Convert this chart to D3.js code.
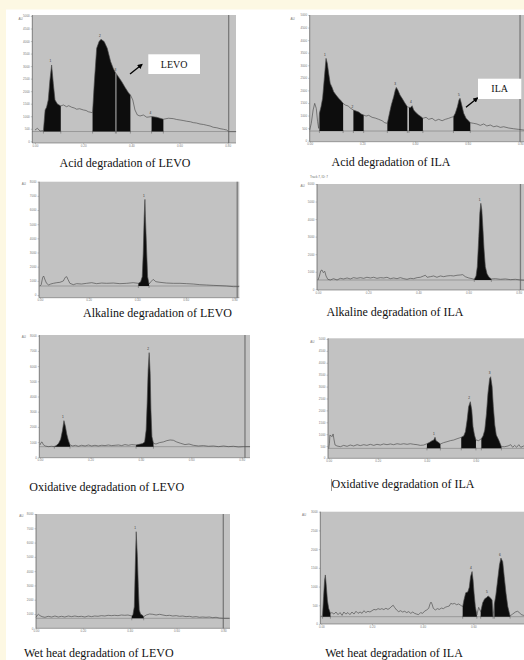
<!DOCTYPE html>
<html>
<head>
<meta charset="utf-8">
<script src="https://cdn.jsdelivr.net/npm/d3@7"></script>
<style>
  body { margin: 0; background: #fff; }
  svg { display: block; }
</style>
</head>
<body>
<script>
// densitometry traces, [Rf, AU]
const acidLevoTrace = [[0,450],[0.010,520],[0.021,410],[0.035,425],[0.042,1250],[0.048,1360],[0.055,1650],[0.062,2450],[0.069,3045],[0.076,2310],[0.083,1650],[0.093,1490],[0.107,1410],[0.118,1450],[0.131,1380],[0.140,1420],[0.152,1360],[0.163,1330],[0.173,1280],[0.185,1300],[0.201,1250],[0.212,1230],[0.221,1180],[0.239,1140],[0.246,2310],[0.256,3710],[0.266,3980],[0.274,4070],[0.287,3980],[0.300,3710],[0.314,3180],[0.325,2910],[0.334,2740],[0.338,2690],[0.346,2580],[0.360,2380],[0.374,2150],[0.388,1940],[0.396,1850],[0.406,1650],[0.415,1250],[0.425,1050],[0.436,1010],[0.450,1050],[0.464,960],[0.484,985],[0.505,960],[0.533,880],[0.554,920],[0.574,905],[0.588,870],[0.602,850],[0.615,830],[0.630,800],[0.645,780],[0.657,745],[0.670,730],[0.685,690],[0.700,670],[0.713,640],[0.727,610],[0.740,560],[0.755,540],[0.768,505],[0.782,480],[0.796,450],[0.804,385],[0.835,385]];
const acidLevoPeaks = [{id:"1",start:0.035,end:0.107},{id:"2",start:0.239,end:0.334},{id:"3",start:0.338,end:0.396},{id:"4",start:0.484,end:0.533}];

const acidIlaTrace = [[0,425],[0.006,690],[0.013,1220],[0.019,1485],[0.025,1285],[0.030,755],[0.034,490],[0.037,1090],[0.043,1350],[0.049,1685],[0.056,2545],[0.062,3275],[0.067,3075],[0.072,2680],[0.078,2280],[0.085,2120],[0.091,1950],[0.100,1815],[0.110,1685],[0.119,1590],[0.127,1485],[0.135,1420],[0.146,1380],[0.156,1285],[0.166,1220],[0.176,1180],[0.186,1140],[0.196,1060],[0.205,1020],[0.214,980],[0.224,1010],[0.237,930],[0.249,900],[0.262,850],[0.275,795],[0.285,715],[0.295,690],[0.303,1090],[0.310,1420],[0.319,1750],[0.325,2015],[0.329,2120],[0.335,2015],[0.343,1815],[0.351,1685],[0.361,1510],[0.371,1350],[0.377,1325],[0.384,1325],[0.389,1390],[0.395,1220],[0.404,1115],[0.414,1020],[0.423,955],[0.430,890],[0.442,930],[0.452,850],[0.465,890],[0.477,795],[0.490,850],[0.503,795],[0.515,850],[0.528,890],[0.538,930],[0.546,955],[0.553,1090],[0.561,1350],[0.567,1620],[0.571,1685],[0.576,1485],[0.585,1090],[0.594,890],[0.603,795],[0.610,715],[0.623,690],[0.635,665],[0.648,610],[0.661,665],[0.673,585],[0.686,625],[0.699,555],[0.711,585],[0.724,530],[0.737,555],[0.756,505],[0.775,475],[0.794,450],[0.813,425],[0.830,420]];
const acidIlaPeaks = [{id:"1",start:0.037,end:0.127},{id:"2",start:0.166,end:0.205},{id:"3",start:0.295,end:0.371},{id:"4",start:0.377,end:0.430},{id:"5",start:0.546,end:0.610}];

const alkLevoTrace = [[0,635],[0.005,730],[0.011,1245],[0.015,1340],[0.021,1060],[0.027,825],[0.036,705],[0.044,775],[0.055,825],[0.069,870],[0.082,895],[0.096,990],[0.104,1245],[0.110,1295],[0.115,1105],[0.123,825],[0.137,730],[0.151,800],[0.171,775],[0.192,825],[0.213,870],[0.233,800],[0.254,845],[0.274,825],[0.302,845],[0.329,800],[0.357,825],[0.384,870],[0.405,825],[0.414,920],[0.421,1295],[0.425,2940],[0.429,5530],[0.432,6750],[0.434,5530],[0.439,3175],[0.443,1295],[0.449,775],[0.457,940],[0.466,1105],[0.477,940],[0.494,895],[0.521,845],[0.549,825],[0.576,825],[0.604,800],[0.631,775],[0.658,730],[0.686,705],[0.713,680],[0.741,660],[0.768,635],[0.796,590],[0.820,590]];
const alkLevoPeaks = [{id:"1",start:0.405,end:0.449}];

const alkIlaTrace = [[0,530],[0.005,720],[0.011,1060],[0.016,1100],[0.021,950],[0.027,1025],[0.032,760],[0.039,570],[0.049,530],[0.062,605],[0.076,530],[0.089,625],[0.102,590],[0.116,645],[0.129,590],[0.142,665],[0.155,625],[0.169,665],[0.182,625],[0.195,685],[0.209,645],[0.222,685],[0.235,625],[0.249,665],[0.262,645],[0.275,685],[0.288,605],[0.302,645],[0.315,605],[0.328,665],[0.342,605],[0.355,570],[0.368,625],[0.381,605],[0.395,665],[0.408,685],[0.421,760],[0.428,800],[0.435,685],[0.448,720],[0.461,760],[0.474,685],[0.488,760],[0.501,720],[0.514,760],[0.528,780],[0.541,760],[0.554,800],[0.567,815],[0.577,835],[0.587,720],[0.601,645],[0.614,605],[0.623,570],[0.630,760],[0.635,1290],[0.641,3000],[0.645,4330],[0.649,4900],[0.653,4520],[0.657,3570],[0.662,2240],[0.667,1290],[0.674,875],[0.682,685],[0.691,590],[0.707,605],[0.727,570],[0.747,590],[0.767,550],[0.787,570],[0.807,530],[0.830,510]];
const alkIlaPeaks = [{id:"1",start:0.623,end:0.691}];

const oxLevoTrace = [[0,810],[0.004,965],[0.008,1010],[0.013,835],[0.021,745],[0.033,700],[0.046,725],[0.057,700],[0.066,790],[0.074,920],[0.082,1185],[0.089,1755],[0.095,2410],[0.101,2015],[0.106,1535],[0.112,1140],[0.119,810],[0.130,745],[0.140,790],[0.152,725],[0.165,790],[0.179,745],[0.192,810],[0.205,745],[0.218,790],[0.231,745],[0.245,790],[0.258,770],[0.271,810],[0.284,770],[0.298,790],[0.311,810],[0.324,770],[0.337,835],[0.351,790],[0.364,835],[0.381,810],[0.394,855],[0.407,900],[0.415,1010],[0.421,1800],[0.425,3550],[0.429,5745],[0.433,6885],[0.437,5525],[0.440,3115],[0.444,1360],[0.450,920],[0.460,875],[0.474,965],[0.489,1010],[0.503,1095],[0.516,1140],[0.529,1120],[0.542,1010],[0.558,920],[0.575,835],[0.591,875],[0.608,790],[0.628,745],[0.648,770],[0.668,725],[0.688,745],[0.708,700],[0.728,745],[0.747,700],[0.767,725],[0.787,680],[0.807,700],[0.833,700]];
const oxLevoPeaks = [{id:"1",start:0.057,end:0.119},{id:"2",start:0.381,end:0.450}];

const oxIlaTrace = [[0,405],[0.003,615],[0.005,965],[0.010,925],[0.014,895],[0.018,1010],[0.022,755],[0.026,545],[0.034,505],[0.048,475],[0.061,530],[0.075,490],[0.088,545],[0.102,505],[0.116,560],[0.129,520],[0.143,560],[0.156,530],[0.170,575],[0.184,530],[0.197,575],[0.211,545],[0.224,590],[0.238,560],[0.252,590],[0.265,560],[0.279,600],[0.293,575],[0.306,600],[0.320,575],[0.333,600],[0.347,575],[0.361,560],[0.374,530],[0.388,545],[0.401,600],[0.412,660],[0.422,730],[0.429,755],[0.434,870],[0.438,730],[0.446,670],[0.456,590],[0.469,645],[0.483,685],[0.497,730],[0.510,755],[0.524,810],[0.533,840],[0.541,870],[0.551,925],[0.558,1105],[0.565,1595],[0.571,2155],[0.578,2365],[0.584,2015],[0.589,1315],[0.595,965],[0.601,755],[0.612,730],[0.623,810],[0.630,925],[0.637,1175],[0.644,1875],[0.650,2715],[0.657,3345],[0.661,3415],[0.667,3000],[0.672,2155],[0.678,1385],[0.684,965],[0.694,755],[0.705,475],[0.718,475],[0.732,505],[0.743,560],[0.751,450],[0.759,530],[0.767,450],[0.776,560],[0.784,450],[0.796,505],[0.810,480]];
const oxIlaPeaks = [{id:"1",start:0.401,end:0.456},{id:"2",start:0.541,end:0.601},{id:"3",start:0.623,end:0.705}];

const wetLevoTrace = [[0,770],[0.006,930],[0.011,980],[0.017,885],[0.026,815],[0.038,770],[0.052,840],[0.067,790],[0.081,860],[0.095,790],[0.109,840],[0.123,790],[0.138,860],[0.152,815],[0.166,860],[0.180,815],[0.194,840],[0.209,790],[0.223,860],[0.237,815],[0.251,860],[0.265,840],[0.279,885],[0.294,860],[0.308,910],[0.322,885],[0.336,910],[0.350,885],[0.365,930],[0.379,910],[0.393,930],[0.409,860],[0.414,955],[0.420,1515],[0.424,4310],[0.428,6760],[0.433,5010],[0.437,2910],[0.441,1280],[0.447,980],[0.454,930],[0.460,815],[0.471,930],[0.485,1000],[0.499,980],[0.513,930],[0.528,980],[0.542,930],[0.556,885],[0.570,910],[0.584,860],[0.599,885],[0.613,840],[0.627,860],[0.641,815],[0.655,840],[0.669,790],[0.684,815],[0.698,770],[0.712,790],[0.726,770],[0.740,790],[0.755,745],[0.769,770],[0.783,720],[0.800,700],[0.826,700]];
const wetLevoPeaks = [{id:"1",start:0.409,end:0.460}];

const wetIlaTrace = [[0,195],[0.005,240],[0.009,730],[0.013,1175],[0.016,1310],[0.020,995],[0.024,640],[0.029,420],[0.036,285],[0.042,305],[0.050,265],[0.058,320],[0.066,250],[0.074,305],[0.082,230],[0.089,320],[0.097,265],[0.105,305],[0.113,250],[0.121,320],[0.129,265],[0.137,340],[0.145,285],[0.153,320],[0.161,285],[0.168,355],[0.176,305],[0.184,340],[0.192,320],[0.200,355],[0.208,390],[0.216,375],[0.224,410],[0.232,390],[0.239,410],[0.247,385],[0.255,420],[0.263,390],[0.271,425],[0.279,480],[0.284,500],[0.289,445],[0.297,375],[0.305,330],[0.313,355],[0.321,320],[0.329,340],[0.337,305],[0.345,330],[0.353,285],[0.361,320],[0.368,285],[0.376,265],[0.384,250],[0.392,305],[0.400,285],[0.408,345],[0.416,375],[0.424,420],[0.429,535],[0.433,585],[0.437,535],[0.442,420],[0.450,375],[0.458,410],[0.466,390],[0.474,425],[0.482,410],[0.489,445],[0.497,465],[0.505,480],[0.511,550],[0.518,535],[0.526,550],[0.534,515],[0.542,535],[0.550,500],[0.558,465],[0.563,640],[0.570,835],[0.578,855],[0.584,980],[0.589,1265],[0.595,1400],[0.599,1175],[0.603,820],[0.608,465],[0.614,240],[0.621,445],[0.629,330],[0.637,570],[0.645,675],[0.653,710],[0.658,750],[0.666,710],[0.674,640],[0.678,195],[0.683,535],[0.689,775],[0.696,1175],[0.703,1575],[0.709,1760],[0.716,1665],[0.722,1265],[0.729,820],[0.736,465],[0.745,215],[0.755,265],[0.766,320],[0.774,340],[0.782,305],[0.789,250],[0.799,230],[0.810,240]];
const wetIlaPeaks = [{id:"",start:0.005,end:0.036},{id:"4",start:0.558,end:0.614},{id:"5",start:0.629,end:0.678},{id:"6",start:0.683,end:0.745}];

const baselines = [390, 385, 635, 530, 700, 405, 700, 195];
const yMaxes = [5000, 5000, 8000, 6000, 8000, 5000, 8000, 3000];
const yStepsAU = [500, 500, 1000, 1000, 1000, 500, 1000, 500];
const rfTicks = [0, 0.2, 0.4, 0.6, 0.8];
const endMarkers = [0.804, 0.799, 0.812, 0.807, 0.813, null, 0.800, null];
const captions = [
  "Acid degradation of LEVO", "Acid degradation of ILA",
  "Alkaline degradation of LEVO", "Alkaline degradation of ILA",
  "Oxidative degradation of LEVO", "Oxidative degradation of ILA",
  "Wet heat degradation of LEVO", "Wet heat degradation of ILA"
];
const callouts = ["LEVO", "ILA"];
const trackLabel = "Track 7, ID: 7";

// layout, page pixels
const layout = [
  {box:[32.3,15,236,143], x0:35, x8:227.7, y0:141.3, yTop:16, au:[18.5,19.5], cap:[125,167]},
  {box:[309.7,15,530,141.7], x0:309.7, x8:520.3, y0:140.7, yTop:15, au:[290.5,19.5], cap:[391,165.5]},
  {box:[39,181.7,239.3,297.7], x0:40, x8:234.3, y0:295, yTop:181.7, au:[21.7,184.5], cap:[157.5,316.5]},
  {box:[317,184,530,290], x0:318, x8:518.7, y0:289.3, yTop:184, au:[300.5,187], cap:[395,316]},
  {box:[39.3,335,250,457.7], x0:40, x8:241.7, y0:457.3, yTop:335.7, au:[21.7,337.5], cap:[106.7,490.5]},
  {box:[328,338.3,530,458.3], x0:328.7, x8:524.7, y0:458, yTop:339, au:[310.3,343], cap:[403,488.3]},
  {box:[36,514,230,628.3], x0:36, x8:223.3, y0:628.3, yTop:514, au:[19.3,517], cap:[98.8,657]},
  {box:[320.3,511.7,530,624], x0:321.3, x8:524, y0:624, yTop:511.7, au:[302,515.5], cap:[394,657]}
];

const traces = [acidLevoTrace, acidIlaTrace, alkLevoTrace, alkIlaTrace, oxLevoTrace, oxIlaTrace, wetLevoTrace, wetIlaTrace];
const peakSets = [acidLevoPeaks, acidIlaPeaks, alkLevoPeaks, alkIlaPeaks, oxLevoPeaks, oxIlaPeaks, wetLevoPeaks, wetIlaPeaks];

const svg = d3.select("body").append("svg")
  .attr("width", 524)
  .attr("height", 660);

svg.append("rect").attr("width", 524).attr("height", 660).attr("fill", "#fff");
svg.append("rect").attr("width", 524).attr("height", 9.5).attr("fill", "#fdf8e3");
svg.append("rect").attr("width", 6).attr("height", 660).attr("fill", "#fdf8e3");

function drawPanel(i) {
  const L = layout[i], data = traces[i], base = baselines[i];
  const [bl, bt, br, bb] = L.box;
  const x = d3.scaleLinear().domain([0, 0.8]).range([L.x0, L.x8]);
  const y = d3.scaleLinear().domain([0, yMaxes[i]]).range([L.y0, L.yTop]);
  const g = svg.append("g");

  g.append("rect")
    .attr("x", bl).attr("y", bt)
    .attr("width", br - bl).attr("height", bb - bt)
    .attr("fill", "#c2c2c2");

  if (endMarkers[i] != null) {
    g.append("line")
      .attr("x1", x(endMarkers[i])).attr("x2", x(endMarkers[i]))
      .attr("y1", bt).attr("y2", bb)
      .attr("stroke", "#7a7a7a").attr("stroke-width", 1.3);
  }

  // baseline
  g.append("line")
    .attr("x1", bl).attr("x2", br)
    .attr("y1", y(base)).attr("y2", y(base))
    .attr("stroke", "#7d7d7d").attr("stroke-width", 0.6);

  const area = d3.area()
    .x(d => x(d[0]))
    .y0(y(base))
    .y1(d => y(d[1]));

  peakSets[i].forEach(p => {
    const seg = data.filter(d => d[0] >= p.start - 1e-9 && d[0] <= p.end + 1e-9);
    g.append("path").datum(seg).attr("d", area).attr("fill", "#0d0d0d");
    [p.start, p.end].forEach(r => {
      g.append("line")
        .attr("x1", x(r)).attr("x2", x(r))
        .attr("y1", y(base) - 1).attr("y2", y(base) + 2)
        .attr("stroke", "#444").attr("stroke-width", 0.4);
    });
    const top = seg.reduce((a, b) => b[1] > a[1] ? b : a);
    g.append("text")
      .attr("x", x(top[0]) - 2).attr("y", y(top[1]) - 2.5)
      .attr("font-family", "Arial, sans-serif").attr("font-size", 3.2)
      .attr("fill", "#333").text(p.id);
  });

  g.append("path").datum(data)
    .attr("d", d3.line().x(d => x(d[0])).y(d => y(d[1])))
    .attr("fill", "none").attr("stroke", "#4a4a4a").attr("stroke-width", 0.65);

  const yAxis = d3.axisLeft(y)
    .tickValues(d3.range(0, yMaxes[i] + 1, yStepsAU[i]))
    .tickFormat(d3.format("d")).tickSize(1.5).tickPadding(1);
  g.append("g").attr("transform", `translate(${bl},0)`).call(yAxis)
    .call(a => a.select(".domain").attr("stroke", "#555").attr("stroke-width", 0.7).attr("d", `M0,${bt}V${bb}`))
    .call(a => a.selectAll(".tick line").attr("stroke", "#777").attr("stroke-width", 0.4))
    .call(a => a.selectAll("text").attr("font-size", 3).attr("fill", "#777").attr("font-family", "Arial, sans-serif"));

  // the last Rf label falls past the page edge on the right-hand panels
  const rfFmt = d3.format(".2f");
  const xAxis = d3.axisBottom(x)
    .tickValues(rfTicks).tickFormat(d => x(d) > 521 ? "" : rfFmt(d))
    .tickSize(1).tickPadding(0.5);
  g.append("g").attr("transform", `translate(0,${bb})`).call(xAxis)
    .call(a => a.select(".domain").attr("stroke", "#666").attr("stroke-width", 0.6).attr("d", `M${bl},0H${br}`))
    .call(a => a.selectAll(".tick line").attr("stroke", "#777").attr("stroke-width", 0.4))
    .call(a => a.selectAll("text").attr("font-size", 3).attr("fill", "#777").attr("font-family", "Arial, sans-serif"));

  g.append("text")
    .attr("x", L.au[0]).attr("y", L.au[1])
    .attr("font-family", "Arial, sans-serif").attr("font-size", 3)
    .attr("fill", "#777").text("AU");

  svg.append("text")
    .attr("x", L.cap[0]).attr("y", L.cap[1])
    .attr("text-anchor", "middle")
    .attr("font-family", "'Liberation Serif', 'Times New Roman', serif")
    .attr("font-size", 12).attr("fill", "#111")
    .text(captions[i]);
}

d3.range(8).forEach(drawPanel);

// callout boxes with arrows (acid panels)
svg.append("defs").append("marker")
  .attr("id", "head").attr("viewBox", "0 0 10 10")
  .attr("refX", 8).attr("refY", 5)
  .attr("markerWidth", 4).attr("markerHeight", 4)
  .attr("orient", "auto")
  .append("path").attr("d", "M0,0L10,5L0,10z").attr("fill", "#000");

const calloutLayout = [
  {rect:[148.3,54.3,51.7,19.7], arrow:[130,74,142,64.5]},
  {rect:[478,78.7,43.3,20.3], arrow:[466,107.3,477.5,98]}
];
calloutLayout.forEach((c, k) => {
  svg.append("rect")
    .attr("x", c.rect[0]).attr("y", c.rect[1])
    .attr("width", c.rect[2]).attr("height", c.rect[3])
    .attr("fill", "#fff");
  svg.append("text")
    .attr("x", c.rect[0] + c.rect[2] / 2).attr("y", c.rect[1] + c.rect[3] / 2 + 3.4)
    .attr("text-anchor", "middle")
    .attr("font-family", "'Liberation Serif', 'Times New Roman', serif")
    .attr("font-size", 10).attr("fill", "#111")
    .text(callouts[k]);
  svg.append("line")
    .attr("x1", c.arrow[0]).attr("y1", c.arrow[1])
    .attr("x2", c.arrow[2]).attr("y2", c.arrow[3])
    .attr("stroke", "#000").attr("stroke-width", 1.3)
    .attr("marker-end", "url(#head)");
});

svg.append("text")
  .attr("x", 310).attr("y", 178)
  .attr("font-family", "Arial, sans-serif").attr("font-size", 3)
  .attr("fill", "#666").text(trackLabel);

// stray text cursor before the oxidative ILA caption
svg.append("line")
  .attr("x1", 331.5).attr("x2", 331.5)
  .attr("y1", 479).attr("y2", 491)
  .attr("stroke", "#555").attr("stroke-width", 0.6);
</script>
</body>
</html>
